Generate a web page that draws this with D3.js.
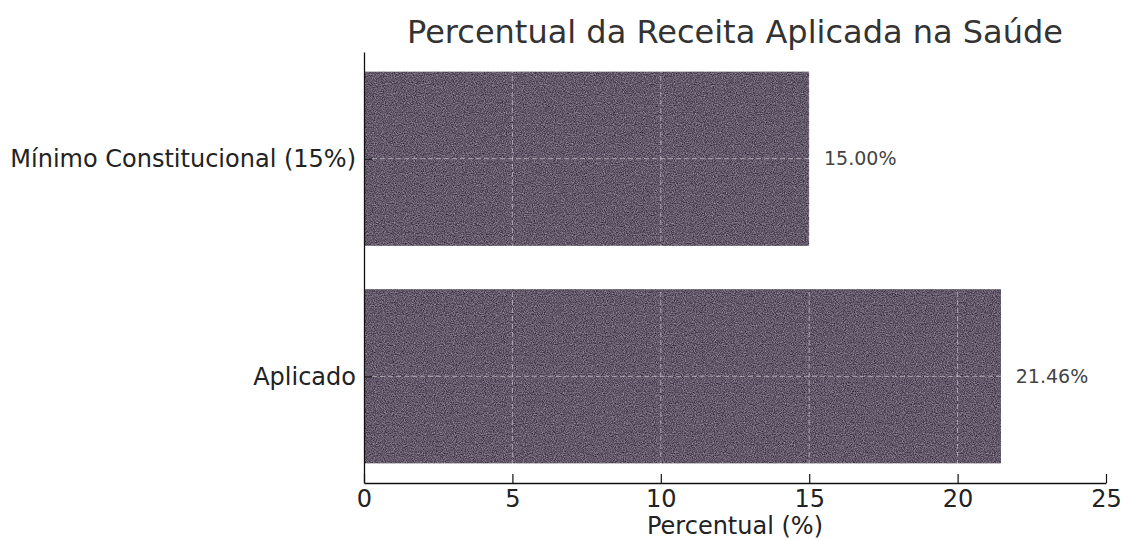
<!DOCTYPE html>
<html>
<head>
<meta charset="utf-8">
<script src="https://cdn.jsdelivr.net/npm/d3@7"></script>
<style>
  body { margin: 0; background: #fff; }
  svg { display: block; font-family: "DejaVu Sans", sans-serif; }
</style>
</head>
<body>
<svg id="chart" width="1123" height="540"></svg>
<script>
// data
var categories = ["Aplicado", "Mínimo Constitucional (15%)"];
var values = [21.46, 15.00];
var xTicks = [0, 5, 10, 15, 20, 25];
var titleText = "Percentual da Receita Aplicada na Saúde";
var xLabelText = "Percentual (%)";

var svg = d3.select("#chart");
var plotL = 364, plotR = 1106, plotT = 52, plotB = 483;

var x = d3.scaleLinear().domain([0, 25]).range([plotL, plotR]);
// matplotlib style: bars at 0,1 with height 0.8 and 5% margins
var y = d3.scaleLinear().domain([-0.49, 1.49]).range([plotB, plotT]);

// scanned look: grey grain on the bars
var defs = svg.append("defs");
var f = defs.append("filter").attr("id", "grain")
  .attr("x", 0).attr("y", 0).attr("width", "100%").attr("height", "100%")
  .attr("color-interpolation-filters", "sRGB");
f.append("feTurbulence").attr("type", "fractalNoise").attr("baseFrequency", "0.9")
  .attr("numOctaves", 2).attr("seed", 7).attr("result", "n");
f.append("feColorMatrix").attr("in", "n").attr("type", "matrix")
  .attr("values", "1 0 0 0 0  1 0 0 0 0  1 0 0 0 0  0 0 0 0 1").attr("result", "g");
f.append("feComposite").attr("in", "SourceGraphic").attr("in2", "g").attr("operator", "arithmetic")
  .attr("k1", 0).attr("k2", 1).attr("k3", 0.6).attr("k4", -0.3).attr("result", "m");
f.append("feComposite").attr("in", "m").attr("in2", "SourceGraphic").attr("operator", "in");

// bars
svg.append("g").selectAll("rect")
  .data(values)
  .enter().append("rect")
    .attr("x", x(0))
    .attr("y", function(d, i) { return y(i + 0.4); })
    .attr("width", function(d) { return x(d) - x(0); })
    .attr("height", function(d, i) { return y(i - 0.4) - y(i + 0.4); })
    .attr("fill", "#62586a")
    .attr("filter", "url(#grain)");

// grid over the bars
var grid = svg.append("g").attr("stroke", "#fff").attr("stroke-opacity", 0.45)
  .attr("stroke-width", 1).attr("stroke-dasharray", "5,3");
grid.selectAll(".vg").data(xTicks).enter().append("line")
  .attr("x1", function(d) { return x(d); }).attr("x2", function(d) { return x(d); })
  .attr("y1", plotT).attr("y2", plotB);
grid.selectAll(".hg").data(categories).enter().append("line")
  .attr("x1", plotL).attr("x2", plotR)
  .attr("y1", function(d, i) { return y(i); }).attr("y2", function(d, i) { return y(i); });

// axes
var xAxis = d3.axisBottom(x).tickValues(xTicks).tickSizeInner(-9).tickSizeOuter(0);
var gx = svg.append("g").attr("transform", "translate(0," + plotB + ")").call(xAxis)
  .attr("font-family", "DejaVu Sans").attr("font-size", 24);
gx.selectAll("text").attr("fill", "#222").attr("y", 7).attr("dy", "0.71em");

var yAxis = d3.axisLeft(y).tickValues([0, 1]).tickFormat(function(d) { return categories[d]; })
  .tickSizeInner(-8).tickSizeOuter(0);
var gy = svg.append("g").attr("transform", "translate(" + plotL + ",0)").call(yAxis)
  .attr("font-family", "DejaVu Sans").attr("font-size", 24);
gy.selectAll("text").attr("fill", "#222").attr("x", -8);

svg.selectAll(".domain").attr("stroke", "#111").attr("stroke-width", 1.3);
svg.selectAll(".tick line").attr("stroke", "#111").attr("stroke-width", 1.2);

// value labels
svg.append("g").selectAll("text")
  .data(values)
  .enter().append("text")
    .attr("x", function(d) { return x(d + 0.5); })
    .attr("y", function(d, i) { return y(i); })
    .attr("dy", "0.35em")
    .attr("font-size", 19)
    .attr("fill", "#444")
    .text(function(d) { return d.toFixed(2) + "%"; });

// title and axis label
svg.append("text")
  .attr("x", (plotL + plotR) / 2).attr("y", 43)
  .attr("text-anchor", "middle").attr("font-size", 32).attr("fill", "#333")
  .text(titleText);

svg.append("text")
  .attr("x", (plotL + plotR) / 2).attr("y", 534)
  .attr("text-anchor", "middle").attr("font-size", 24).attr("fill", "#222")
  .text(xLabelText);
</script>
</body>
</html>
